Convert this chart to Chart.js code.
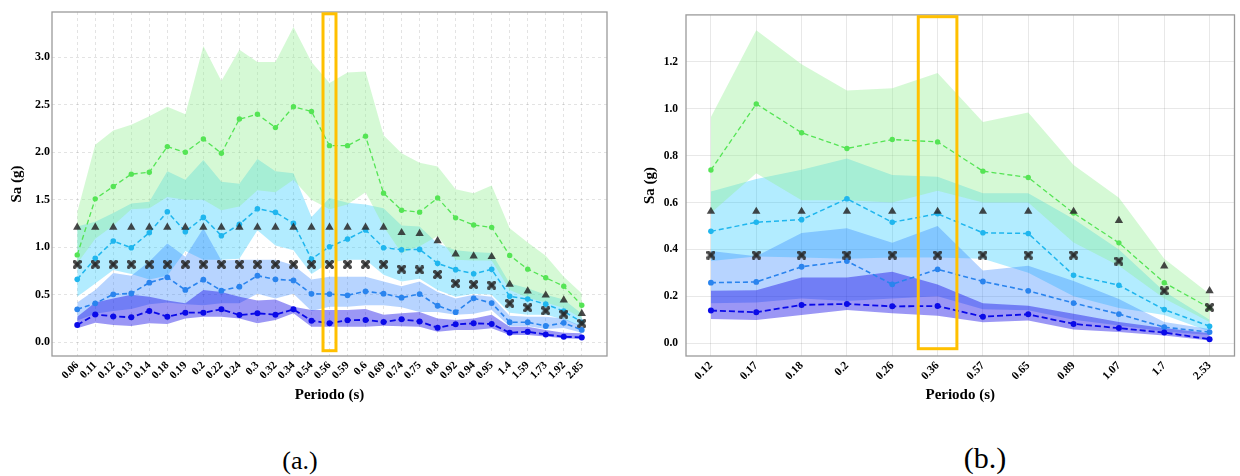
<!DOCTYPE html>
<html><head><meta charset="utf-8">
<script src="https://cdn.jsdelivr.net/npm/chart.js@4.4.0/dist/chart.umd.min.js"></script>
<style>
html,body{margin:0;padding:0;background:#fff;width:1240px;height:476px;overflow:hidden;position:relative}
#ca{position:absolute;left:0;top:0}
#cb{position:absolute;left:620px;top:0}
.cap{position:absolute;font-family:'Liberation Serif','Times New Roman',serif;color:#000;transform:translate(-50%,-50%);white-space:nowrap;line-height:1}
</style></head><body>
<canvas id="ca" width="615" height="410"></canvas>
<canvas id="cb" width="620" height="410"></canvas>
<div class="cap" style="left:300px;top:461px;font-size:26px">(a.)</div>
<div class="cap" style="left:985px;top:458px;font-size:30px">(b.)</div>
<script>
// ---------- Panel (a) data ----------
const periodsA = ['0.06','0.11','0.12','0.13','0.14','0.18','0.19','0.2','0.22','0.24','0.3','0.32','0.34','0.54','0.56','0.59','0.6','0.69','0.74','0.75','0.8','0.92','0.94','0.95','1.4','1.59','1.73','1.92','2.85'];
const yTicksA = [0.0,0.5,1.0,1.5,2.0,2.5,3.0];
const greenMedA = [0.92,1.51,1.64,1.77,1.79,2.06,2.00,2.14,1.99,2.35,2.40,2.26,2.48,2.43,2.07,2.07,2.17,1.57,1.39,1.37,1.52,1.31,1.235,1.21,0.915,0.77,0.68,0.59,0.39];
const greenUpA  = [1.37,2.08,2.23,2.29,2.38,2.48,2.40,3.12,2.75,3.08,2.95,2.95,3.32,2.95,2.73,2.84,2.85,2.18,1.99,1.89,1.85,1.61,1.57,1.65,1.20,1.05,0.91,0.69,0.515];
const greenLoA  = [0.83,1.09,1.23,1.40,1.41,1.53,1.50,1.50,1.39,1.43,1.60,1.58,1.71,1.50,1.40,1.45,1.58,1.22,0.94,1.01,1.12,0.87,0.86,0.86,0.55,0.47,0.42,0.36,0.25];
const cyanMedA  = [0.663,0.884,1.066,0.996,1.154,1.375,1.165,1.315,1.122,1.242,1.406,1.368,1.252,0.877,1.006,1.087,1.182,0.996,0.975,0.978,0.831,0.765,0.722,0.768,0.485,0.455,0.402,0.328,0.212];
const cyanUpA   = [1.22,1.27,1.36,1.46,1.48,1.80,1.71,1.92,1.69,1.67,1.93,1.80,1.78,1.32,1.52,1.47,1.45,1.41,1.23,1.22,1.04,0.97,0.95,0.94,0.62,0.57,0.50,0.45,0.30];
const cyanLoA   = [0.48,0.62,0.76,0.72,0.66,0.70,0.96,0.87,0.87,0.88,1.18,1.02,0.97,0.72,0.84,0.87,0.87,0.71,0.64,0.67,0.55,0.48,0.51,0.50,0.31,0.29,0.29,0.24,0.165];
const medMedA   = [0.347,0.41,0.505,0.515,0.628,0.684,0.551,0.659,0.544,0.586,0.701,0.663,0.652,0.51,0.508,0.495,0.537,0.512,0.47,0.508,0.385,0.317,0.463,0.413,0.212,0.212,0.172,0.205,0.13];
const medUpA    = [0.42,0.55,0.73,0.70,0.85,1.04,0.90,1.20,0.86,0.87,0.87,0.87,0.81,0.66,0.69,0.69,0.69,0.64,0.59,0.64,0.53,0.46,0.50,0.48,0.28,0.27,0.27,0.25,0.17];
const medLoA    = [0.23,0.30,0.33,0.35,0.40,0.42,0.40,0.39,0.41,0.41,0.51,0.46,0.51,0.33,0.375,0.375,0.39,0.39,0.37,0.32,0.32,0.29,0.30,0.34,0.17,0.17,0.14,0.15,0.10];
const darkMedA  = [0.182,0.294,0.273,0.263,0.33,0.27,0.312,0.312,0.347,0.287,0.305,0.291,0.347,0.228,0.20,0.232,0.236,0.213,0.242,0.22,0.154,0.189,0.20,0.193,0.101,0.112,0.082,0.059,0.052];
const darkUpA   = [0.27,0.42,0.46,0.50,0.48,0.44,0.41,0.55,0.53,0.48,0.44,0.45,0.375,0.34,0.34,0.34,0.35,0.29,0.305,0.32,0.25,0.235,0.25,0.29,0.165,0.165,0.13,0.10,0.095];
const darkLoA   = [0.147,0.207,0.182,0.172,0.20,0.193,0.252,0.27,0.27,0.25,0.20,0.235,0.305,0.165,0.165,0.165,0.165,0.175,0.17,0.165,0.11,0.13,0.13,0.147,0.077,0.077,0.06,0.042,0.035];
const triA      = [1.21,1.21,1.21,1.21,1.21,1.21,1.21,1.21,1.21,1.21,1.21,1.21,1.21,1.21,1.21,1.21,1.21,1.21,1.154,1.145,1.068,0.928,0.908,0.901,0.61,0.54,0.496,0.445,0.303];
const crossA    = [0.821,0.821,0.821,0.821,0.821,0.821,0.821,0.821,0.821,0.821,0.821,0.821,0.821,0.821,0.821,0.821,0.821,0.821,0.77,0.762,0.715,0.62,0.609,0.602,0.41,0.365,0.332,0.296,0.20];
const highlightA = '0.56';

// ---------- Panel (b) data ----------
const periodsB = ['0.12','0.17','0.18','0.2','0.26','0.36','0.57','0.65','0.89','1.07','1.7','2.53'];
const yTicksB = [0.0,0.2,0.4,0.6,0.8,1.0,1.2];
const greenMedB = [0.739,1.021,0.898,0.831,0.869,0.859,0.734,0.707,0.555,0.428,0.258,0.15];
const greenUpB  = [0.965,1.336,1.19,1.078,1.088,1.153,0.944,0.984,0.76,0.62,0.36,0.21];
const greenLoB  = [0.555,0.725,0.61,0.61,0.60,0.65,0.60,0.60,0.43,0.33,0.19,0.09];
const cyanMedB  = [0.477,0.516,0.527,0.616,0.516,0.552,0.471,0.468,0.29,0.247,0.143,0.072];
const cyanUpB   = [0.647,0.70,0.74,0.788,0.718,0.71,0.64,0.64,0.53,0.40,0.22,0.10];
const cyanLoB   = [0.35,0.37,0.365,0.36,0.365,0.365,0.36,0.30,0.20,0.15,0.12,0.05];
const medMedB   = [0.258,0.261,0.326,0.35,0.251,0.315,0.263,0.223,0.171,0.124,0.068,0.047];
const medUpB    = [0.393,0.371,0.47,0.49,0.428,0.50,0.31,0.33,0.265,0.188,0.09,0.06];
const medLoB    = [0.17,0.173,0.19,0.18,0.19,0.20,0.145,0.14,0.10,0.075,0.05,0.035];
const darkMedB  = [0.139,0.132,0.163,0.167,0.157,0.158,0.113,0.123,0.082,0.064,0.045,0.017];
const darkUpB   = [0.223,0.226,0.28,0.28,0.305,0.25,0.17,0.16,0.125,0.09,0.065,0.042];
const darkLoB   = [0.103,0.099,0.12,0.141,0.127,0.117,0.089,0.096,0.058,0.047,0.033,0.011];
const triB      = [0.562,0.562,0.562,0.562,0.562,0.562,0.562,0.562,0.562,0.523,0.329,0.223];
const crossB    = [0.376,0.376,0.376,0.376,0.376,0.376,0.376,0.376,0.376,0.35,0.223,0.153];
const highlightB = '0.36';

// ---------- styling ----------
const FONT = "'Liberation Serif','Times New Roman',Times,serif";
const COL = {
  greenLine:'#55e455', greenBand:'rgba(144,238,144,0.38)',
  cyanLine:'#1fb6ee',  cyanBand:'rgba(0,191,255,0.30)',
  medLine:'#2a84ee',   medBand:'rgba(30,120,255,0.32)',
  darkLine:'#0a0ae8',  darkBand:'rgba(17,7,231,0.42)',
  marker:'rgba(40,40,40,0.85)'
};

function makeXMarker(size, color){
  const c = document.createElement('canvas');
  c.width = c.height = size;
  const g = c.getContext('2d');
  g.fillStyle = color;
  g.translate(size/2, size/2);
  g.rotate(Math.PI/4);
  const L = size*0.62, t = size*0.2;
  g.fillRect(-L, -t, 2*L, 2*t);
  g.fillRect(-t, -L, 2*t, 2*L);
  return c;
}
const xMark = makeXMarker(9, COL.marker);

const framePlugin = {
  id:'frame',
  afterDraw(chart, args, o){
    const {ctx, chartArea:a, scales:{x}} = chart;
    ctx.save();
    ctx.strokeStyle = '#9a9a9a'; ctx.lineWidth = 1.3;
    ctx.strokeRect(a.left, a.top, a.right - a.left, a.bottom - a.top);
    const idx = o.cats.indexOf(o.hl);
    const cx = x.getPixelForValue(idx);
    const half = o.hlHalf * (x.getPixelForValue(1) - x.getPixelForValue(0));
    ctx.strokeStyle = '#FFC000'; ctx.lineWidth = 3;
    ctx.strokeRect(cx - half, a.top + 1.8, 2*half, a.bottom - a.top - 1.8 - o.hlGap);
    ctx.restore();
  }
};

function makeChart(id, o){
  const pts = arr => arr.map((v,i) => ({x:i, y:v}));
  const ds = [];
  const addBand = (hi, lo, color, order) => {
    const loIdx = ds.length + 1;
    ds.push({data:pts(hi), borderWidth:0, borderColor:'rgba(0,0,0,0)', pointRadius:0, fill:loIdx, backgroundColor:color, order});
    ds.push({data:pts(lo), borderWidth:0, borderColor:'rgba(0,0,0,0)', pointRadius:0, fill:false, order});
  };
  addBand(o.cyanUp, o.cyanLo, COL.cyanBand, 13);
  addBand(o.greenUp, o.greenLo, COL.greenBand, 12);
  addBand(o.medUp, o.medLo, COL.medBand, 11);
  addBand(o.darkUp, o.darkLo, COL.darkBand, 10);
  const addLine = (arr, c, w, dash, r, order) => ds.push({
    data:pts(arr), borderColor:c, borderWidth:w, borderDash:dash, pointRadius:r,
    pointBackgroundColor:c, pointBorderColor:c, pointBorderWidth:0, fill:false, tension:0, order
  });
  addLine(o.greenMed, COL.greenLine, 1.3, [5,3], 2.7, 5);
  addLine(o.cyanMed, COL.cyanLine, 1.5, [5,3], 2.8, 4);
  addLine(o.medMed, COL.medLine, 1.6, [5,3], 2.9, 3);
  addLine(o.darkMed, COL.darkLine, 1.8, [6,3], 3.0, 2);
  ds.push({data:pts(o.tri), showLine:false, pointStyle:'triangle', pointRadius:4.8,
    pointBackgroundColor:COL.marker, pointBorderWidth:0, borderColor:'rgba(0,0,0,0)', fill:false, order:0});
  ds.push({data:pts(o.cross), showLine:false, pointStyle:xMark, pointRadius:4.5,
    borderColor:'rgba(0,0,0,0)', fill:false, order:0});

  const n = o.cats.length;
  return new Chart(document.getElementById(id), {
    type:'line',
    data:{datasets:ds},
    plugins:[framePlugin],
    options:{
      responsive:false, animation:false, devicePixelRatio:1,
      layout:{padding:{top:12, right:o.padRight, left:0, bottom:0}},
      plugins:{legend:{display:false}, tooltip:{enabled:false},
        frame:{cats:o.cats, hl:o.hl, hlHalf:o.hlHalf, hlGap:o.hlGap}},
      scales:{
        x:{type:'linear', min:-o.xOff, max:n-1+o.xOff,
          afterBuildTicks:s => { s.ticks = o.cats.map((c,i) => ({value:i})); },
          afterFit:s => { s.height = 54; },
          ticks:{autoSkip:false, maxRotation:45, minRotation:45, padding:3, color:'#000',
            font:{family:FONT, size:o.xFont, weight:'bold'}, callback:v => o.cats[v]},
          grid:{drawTicks:false, color:o.gridColor, lineWidth:o.gridW},
          border:{display:false, dash:o.gridDash},
          title:{display:true, text:'Periodo (s)', color:'#000', padding:{top:0,bottom:6},
            font:{family:FONT, size:15, weight:'bold'}}
        },
        y:{type:'linear', min:o.yMin, max:o.yMax,
          afterBuildTicks:s => { s.ticks = o.yTicks.map(v => ({value:v})); },
          afterFit:s => { s.width = o.yWidth; },
          ticks:{padding:o.yPad, color:'#000', font:{family:FONT, size:o.yFont, weight:'bold'},
            callback:v => Number(v).toFixed(1)},
          grid:{drawTicks:false, color:o.gridColor, lineWidth:o.gridW},
          border:{display:false, dash:o.gridDash},
          title:{display:true, text:'Sa (g)', color:'#000', padding:{top:o.yTitlePad, bottom:0},
            font:{family:FONT, size:15, weight:'bold'}}
        }
      }
    }
  });
}

makeChart('ca', {
  cats:periodsA, yTicks:yTicksA, yMin:-0.144, yMax:3.477, xOff:1.4,
  greenMed:greenMedA, greenUp:greenUpA, greenLo:greenLoA,
  cyanMed:cyanMedA, cyanUp:cyanUpA, cyanLo:cyanLoA,
  medMed:medMedA, medUp:medUpA, medLo:medLoA,
  darkMed:darkMedA, darkUp:darkUpA, darkLo:darkLoA,
  tri:triA, cross:crossA, hl:highlightA, hlHalf:0.36, hlGap:5.3,
  padRight:8, yWidth:52, yPad:2, yFont:12, xFont:11, yTitlePad:8,
  gridColor:'rgba(0,0,0,0.14)', gridW:0.8, gridDash:[3,3]
});
makeChart('cb', {
  cats:periodsB, yTicks:yTicksB, yMin:-0.055, yMax:1.401, xOff:0.55,
  greenMed:greenMedB, greenUp:greenUpB, greenLo:greenLoB,
  cyanMed:cyanMedB, cyanUp:cyanUpB, cyanLo:cyanLoB,
  medMed:medMedB, medUp:medUpB, medLo:medLoB,
  darkMed:darkMedB, darkUp:darkUpB, darkLo:darkLoB,
  tri:triB, cross:crossB, hl:highlightB, hlHalf:0.426, hlGap:7.3,
  padRight:0, yWidth:66, yPad:8, yFont:11.5, xFont:11.5, yTitlePad:21,
  gridColor:'rgba(0,0,0,0.09)', gridW:1, gridDash:[]
});
</script>
</body></html>
